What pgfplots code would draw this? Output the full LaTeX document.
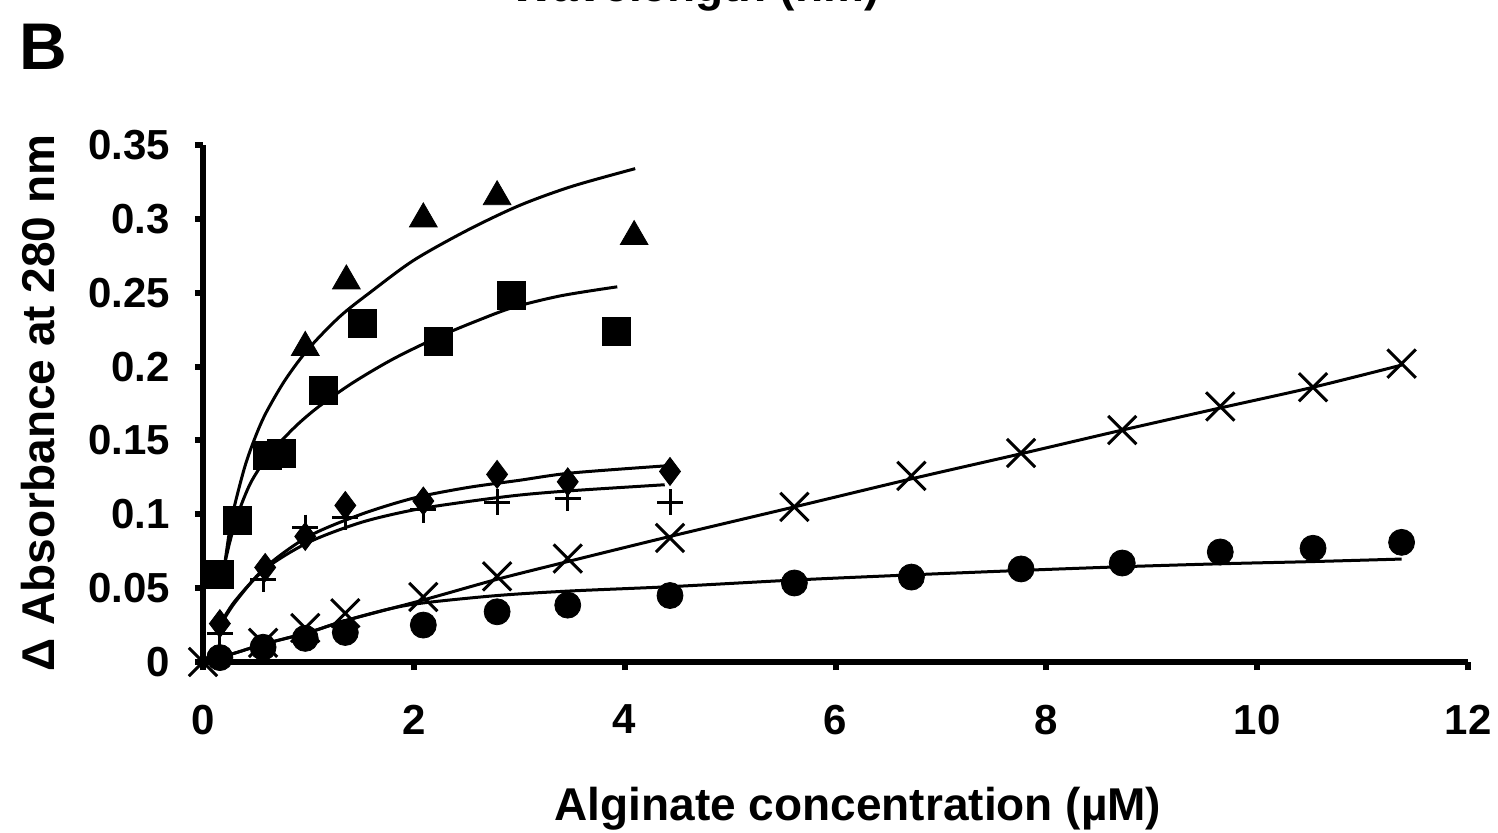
\documentclass[border=0pt]{standalone}
\usepackage{fontspec}
\setmainfont{Liberation Sans}
\usepackage{pgfplots}
\pgfplotsset{compat=1.18}

% 1 px of the reference = 0.5pt
\begin{document}
\begin{tikzpicture}
\useasboundingbox (-101.5pt,-85pt) rectangle (647.5pt,331pt);
\begin{axis}[
  scale only axis,
  width=632.5pt, height=258.5pt,
  xmin=0, xmax=12, ymin=0, ymax=0.35,
  axis x line*=bottom, axis y line*=left,
  axis line style={line width=3pt},
  xtick={0,2,4,6,8,10,12},
  xticklabels={0,2,4,6,8,10,12},
  ytick={0,0.05,0.1,0.15,0.2,0.25,0.3,0.35},
  yticklabels={0,0.05,0.1,0.15,0.2,0.25,0.3,0.35},
  tick align=outside,
  major tick length=4pt,
  tick style={line width=3pt, black},
  tick label style={font=\fontsize{21}{22}\selectfont\bfseries},
  yticklabel style={xshift=-9pt},
  xticklabel style={yshift=-14pt},
  clip=false,
  every axis plot/.append style={black},
]
% fitted curves
\addplot[line width=1.5pt, smooth] coordinates {(0.19,0.058) (0.25,0.088) (0.3,0.106) (0.4,0.133) (0.5,0.153) (0.6,0.169) (0.78,0.191) (1.0,0.212) (1.3,0.234) (1.6,0.251) (2.0,0.272) (2.5,0.292) (3.0,0.309) (3.5,0.322) (4.1,0.334)};
\addplot[line width=1.5pt, smooth] coordinates {(0.18,0.058) (0.25,0.080) (0.33,0.100) (0.45,0.121) (0.6,0.138) (0.72,0.148) (0.9,0.161) (1.1,0.173) (1.42,0.189) (1.8,0.205) (2.23,0.220) (2.6,0.231) (2.94,0.240) (3.4,0.248) (3.93,0.254)};
\addplot[line width=1.5pt, smooth] coordinates {(0.16,0.024) (0.3,0.040) (0.59,0.064) (1.0,0.085) (1.5,0.100) (2.0,0.111) (2.5,0.118) (3.0,0.123) (3.5,0.128) (4.43,0.133)};
\addplot[line width=1.5pt, smooth] coordinates {(0.16,0.025) (0.3,0.041) (0.59,0.063) (1.0,0.081) (1.5,0.0945) (2.0,0.103) (2.5,0.1085) (3.0,0.113) (3.5,0.116) (4.38,0.120)};
\addplot[line width=1.5pt, smooth] coordinates {(0,0) (0.3,0.006) (0.57,0.012) (1.0,0.020) (1.35,0.028) (2.09,0.042) (2.79,0.056) (3.46,0.068) (4.43,0.085) (5.61,0.105) (6.72,0.124) (7.76,0.141) (8.72,0.157) (9.65,0.172) (10.53,0.186) (11.37,0.201)};
\addplot[line width=1.5pt, smooth] coordinates {(0,0) (0.3,0.006) (0.57,0.012) (1.0,0.020) (1.35,0.028) (1.77,0.036) (2.09,0.040) (2.79,0.045) (3.46,0.048) (4.43,0.051) (5.61,0.0555) (6.72,0.059) (7.76,0.062) (8.72,0.0645) (9.65,0.0665) (10.53,0.068) (11.37,0.0697)};
% measured points
\addplot[only marks, mark=triangle*, mark size=8pt] coordinates {(0.97,0.213) (1.36,0.258) (2.09,0.300) (2.79,0.315) (4.09,0.288)};
\addplot[only marks, mark=square*, mark size=7pt] coordinates {(0.16,0.059) (0.33,0.096) (0.61,0.140) (0.74,0.141) (1.14,0.184) (1.51,0.229) (2.23,0.217) (2.93,0.248) (3.92,0.224)};
\addplot[only marks, mark=diamond*, mark size=7pt] coordinates {(0.16,0.026) (0.59,0.064) (0.97,0.085) (1.35,0.106) (2.09,0.109) (2.79,0.127) (3.46,0.122) (4.43,0.129)};
\addplot[only marks, mark=+, mark size=6.5pt, mark options={line width=1.5pt}] coordinates {(0.16,0.019) (0.57,0.056) (0.97,0.091) (1.35,0.098) (2.09,0.103) (2.79,0.108) (3.46,0.111) (4.43,0.108)};
\addplot[only marks, mark=x, mark size=10pt, mark options={line width=1.5pt}] coordinates {(0,0) (0.57,0.013) (0.97,0.023) (1.35,0.033) (2.09,0.044) (2.79,0.058) (3.46,0.070) (4.43,0.084) (5.61,0.105) (6.72,0.126) (7.76,0.1415) (8.72,0.157) (9.65,0.173) (10.53,0.186) (11.37,0.202)};
\addplot[only marks, mark=*, mark size=6.5pt] coordinates {(0.16,0.003) (0.57,0.010) (0.97,0.016) (1.35,0.020) (2.09,0.025) (2.79,0.034) (3.46,0.0385) (4.43,0.045) (5.61,0.0535) (6.72,0.0575) (7.76,0.063) (8.72,0.067) (9.65,0.0745) (10.53,0.077) (11.37,0.081)};
\end{axis}
\node[anchor=base, font=\fontsize{23}{24}\selectfont\bfseries] at (327.5pt,-79pt) {Alginate concentration (µM)};
\node[anchor=base, rotate=90, font=\fontsize{23}{24}\selectfont\bfseries] at (-74pt,129.5pt) {Δ Absorbance at 280 nm};
\node[anchor=base west, inner sep=0pt, font=\fontsize{33}{34}\selectfont\bfseries] at (-92pt,296pt) {B};
\node[anchor=base, inner sep=0pt, font=\fontsize{23}{24}\selectfont\bfseries] at (246pt,330pt) {Wavelength (nm)};
\end{tikzpicture}
\end{document}
